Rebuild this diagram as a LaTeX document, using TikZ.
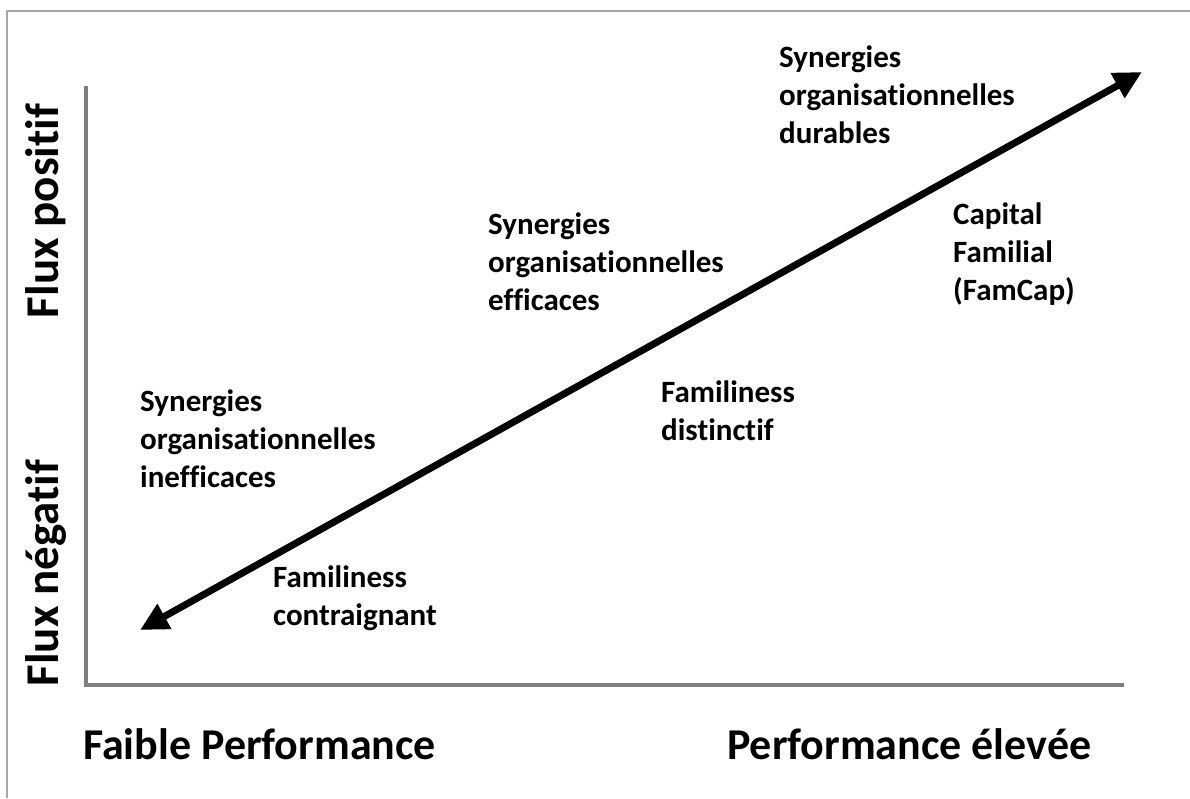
\documentclass[tikz,border=0pt]{standalone}
\usepackage{fontspec}
\setmainfont{Carlito}[Ligatures={NoCommon}]
\usetikzlibrary{arrows.meta}
\definecolor{axisgray}{HTML}{7F7F7F}
\definecolor{framegray}{HTML}{A6A6A6}
\tikzset{
  lbl/.style={font=\fontsize{31}{38}\selectfont\bfseries, align=left, anchor=base west, inner sep=0pt},
  biglbl/.style={font=\fontsize{44}{52}\selectfont\bfseries, inner sep=0pt},
  vlbl/.style={font=\fontsize{47}{55}\selectfont\bfseries, inner sep=0pt, rotate=90, anchor=base},
  axis/.style={draw=axisgray, line width=3.5pt},
  bigarrow/.style={line width=7pt, {Triangle[length=28pt,width=27pt]}-{Triangle[length=28pt,width=27pt]}}
}
\begin{document}
\begin{tikzpicture}[x=1pt,y=-1pt]
\useasboundingbox (0,0) rectangle (1190,798);
\fill[white] (0,0) rectangle (1190,798);
% frame
\coordinate (fbl) at (7,798);
\coordinate (ftl) at (7,11);
\coordinate (ftr) at (1190,11);
\draw[framegray, line width=1.5pt] (fbl) -- (ftl) -- (ftr);
% axes
\coordinate (ytop) at (86,86);
\coordinate (origin) at (86,685);
\coordinate (xend) at (1124,685);
\draw[axis] (ytop) -- (origin) -- (xend);
% main arrow
\coordinate (alow) at (140,630);
\coordinate (ahigh) at (1142,72);
\draw[bigarrow] (alow) -- (ahigh);
% axis labels
\node[vlbl] (fpos) at (58,211) {Flux positif};
\node[vlbl] (fneg) at (58,573) {Flux négatif};
\node[biglbl, anchor=base west] (faible) at (83,759) {Faible Performance};
\node[biglbl, anchor=base west] (elevee) at (727,759) {Performance élevée};
% labels (anchor = baseline of the last line)
\node[lbl] (durables) at (779,143) {Synergies\\organisationnelles\\durables};
\node[lbl] (efficaces) at (488,310) {Synergies\\organisationnelles\\efficaces};
\node[lbl] (inefficaces) at (140,487) {Synergies\\organisationnelles\\inefficaces};
\node[lbl] (famcap) at (953,300) {Capital\\Familial\\(FamCap)};
\node[lbl] (distinctif) at (661,440) {Familiness\\distinctif};
\node[lbl] (contraignant) at (273,625) {Familiness\\contraignant};
\end{tikzpicture}
\end{document}
